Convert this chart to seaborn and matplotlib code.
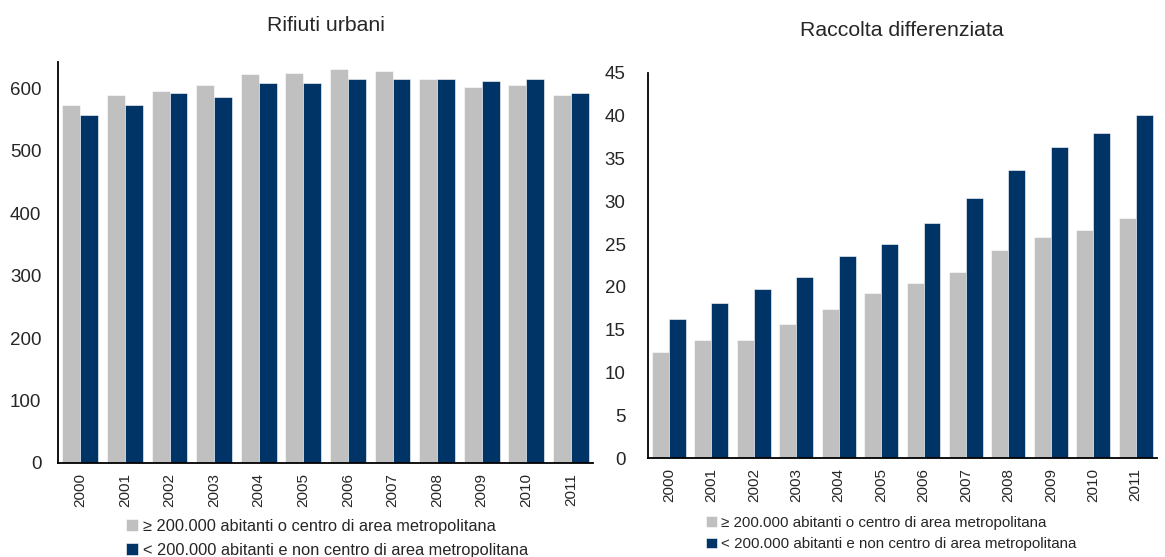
"""Rifiuti urbani e raccolta differenziata, 2000-2011."""
import pandas as pd
import matplotlib
matplotlib.use('Agg')
import matplotlib.pyplot as plt
import seaborn as sns

years = [str(y) for y in range(2000, 2012)]
series_names = ['≥ 200.000 abitanti o centro di area metropolitana',
                '< 200.000 abitanti e non centro di area metropolitana']

# kg per abitante
rifiuti_grandi = [573, 589, 596, 605, 622, 625, 631, 628, 615, 602, 605, 589]
rifiuti_piccoli = [557, 573, 592, 586, 609, 609, 615, 615, 615, 612, 615, 592]

# percentuale raccolta differenziata
diff_grandi = [12.4, 13.8, 13.8, 15.7, 17.4, 19.3, 20.5, 21.7, 24.3, 25.8, 26.6, 28.0]
diff_piccoli = [16.2, 18.1, 19.8, 21.2, 23.6, 25.0, 27.5, 30.4, 33.7, 36.3, 38.0, 40.1]

colors = ['#c0c0c0', '#003366']


def long_df(a, b):
    return pd.DataFrame({
        'anno': years * 2,
        'valore': a + b,
        'serie': [series_names[0]] * len(years) + [series_names[1]] * len(years),
    })


sns.set_style('white')
plt.rcParams['font.family'] = ['Liberation Sans', 'DejaVu Sans']

fig = plt.figure(figsize=(11.65, 5.57), dpi=100)
ax1 = fig.add_axes([0.0498, 0.1688, 0.4594, 0.72])
ax2 = fig.add_axes([0.556, 0.1777, 0.437, 0.6913])


def draw(ax, df, ylim, yticks, title, tpad, ypad, leg_xy, leg_size, leg_font, spacing):
    sns.barplot(data=df, x='anno', y='valore', hue='serie', palette=colors,
                width=0.8, saturation=1, ax=ax, edgecolor='white', linewidth=0.4)
    ax.set_ylim(*ylim)
    ax.set_yticks(yticks)
    ax.set_xlim(-0.5, 11.5)
    ax.set_xlabel('')
    ax.set_ylabel('')
    for s in ['top', 'right']:
        ax.spines[s].set_visible(False)
    for s in ['left', 'bottom']:
        ax.spines[s].set_color('black')
        ax.spines[s].set_linewidth(1.3)
    ax.tick_params(axis='y', length=0, pad=ypad, labelsize=13.5)
    ax.tick_params(axis='x', length=0, pad=7, labelsize=11, labelrotation=90)
    ax.set_title(title, fontsize=15.3, pad=tpad)
    handles, labels = ax.get_legend_handles_labels()
    ax.legend(handles, labels, loc='upper left', bbox_to_anchor=leg_xy,
              bbox_transform=fig.transFigure, frameon=False, fontsize=leg_font,
              handlelength=leg_size, handleheight=leg_size, handletextpad=0.3,
              labelspacing=spacing, borderaxespad=0, borderpad=0)


draw(ax1, long_df(rifiuti_grandi, rifiuti_piccoli), (0, 642),
     range(0, 700, 100), 'Rifiuti urbani', 22, 12, (0.108, 0.068), 0.75, 11.8, 0.55)
draw(ax2, long_df(diff_grandi, diff_piccoli), (0, 45),
     range(0, 50, 5), 'Raccolta differenziata', 26.5, 16, (0.606, 0.074), 0.7, 10.9, 0.5)

fig.savefig('out.png', dpi=100)
